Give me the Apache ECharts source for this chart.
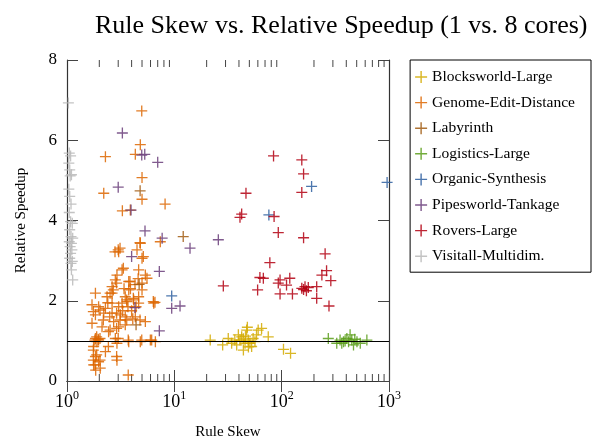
<!DOCTYPE html>
<html>
<head>
<meta charset="utf-8">
<script src="https://cdn.jsdelivr.net/npm/echarts@6/dist/echarts.min.js"></script>
<style>
  html, body { margin: 0; padding: 0; background: #fff; }
  #chart { width: 593px; height: 441px; }
</style>
</head>
<body>
<div id="chart"></div>
<script>
// data: [rule skew, relative speedup]
var blocksworld = [[21.6,1.02],[28.2,0.90],[31.8,1.06],[34.2,0.94],[36.6,1.02],[38.1,0.90],[39.5,1.15],[40.9,1.02],
  [42.4,1.10],[44,0.77],[45.6,0.94],[47.2,1.27],[48.8,1.02],[50.6,0.94],[52.5,0.86],[54.2,1.06],[56.4,0.98],
  [58.3,1.15],[60.4,1.27],[65,1.31],[75,1.10],[104,0.79],[121,0.69],[46,1.12],[49,0.85],[44,1.05],[47.9,1.34]];
var genome = [[4.97,6.73],[2.28,5.59],[4.82,5.89],[4.33,5.65],[5.0,5.07],[2.2,4.68],[5.0,4.53],[8.2,4.41],
  [3.28,4.24],[3.89,4.26],[7.4,3.47],[4.79,3.45],[3.0,3.27],[2.8,3.22],[3.03,3.22],[4.82,3.43],[4.49,3.27],
  [5.0,3.06],[5.14,3.10],[3.12,3.31],[3.26,2.77],[3.35,2.81],[2.92,2.64],[4.65,2.77],[5.37,2.64],[5.56,2.56],
  [2.82,2.52],[3.76,2.48],[5.0,2.44],[2.63,2.35],[2.9,2.44],[3.86,2.48],[2.7,2.27],[2.52,2.19],[1.84,2.19],
  [2.36,2.10],[3.49,2.10],[4.65,2.10],[2.63,2.19],[3.76,2.27],[5.0,2.27],[6.43,1.94],[6.37,1.98],[1.71,1.90],
  [1.97,1.85],[2.28,1.81],[2.63,1.94],[3.03,1.85],[3.26,1.94],[3.62,1.98],[4.18,2.02],[4.65,1.94],[3.6,2.02],
  [4.15,2.06],[1.84,1.65],[2.2,1.69],[2.63,1.69],[3.14,1.65],[3.49,1.60],[4.33,1.60],[5.37,1.48],[1.71,1.44],
  [2.12,1.35],[2.72,1.48],[3.03,1.35],[3.49,1.40],[2.44,1.23],[1.76,1.73],[2.03,1.77],[2.18,1.52],[2.9,1.69],
  [3.12,1.52],[3.6,1.52],[4.79,1.52],[2.52,1.27],[2.9,1.31],[1.84,1.06],[1.97,1.02],[1.89,1.10],[1.82,1.02],
  [2.03,1.06],[1.9,0.98],[1.95,1.04],[2.82,1.06],[2.92,0.94],[3.0,1.06],[3.76,0.98],[3.72,1.02],[4.82,0.98],
  [4.97,1.02],[5.98,1.02],[6.15,1.02],[6.66,0.98],[1.77,0.86],[2.28,0.73],[2.43,0.86],[1.76,0.77],[1.84,0.61],
  [1.89,0.65],[1.97,0.48],[1.76,0.52],[2.03,0.52],[1.77,0.40],[1.82,0.40],[2.04,0.32],[1.85,0.27],[2.92,0.52],
  [2.9,0.61],[3.72,0.15],[6.6,1.96],[4.0,1.75],[4.4,1.85],[3.9,2.3],[4.3,2.4],[3.3,1.75],[3.7,1.85],[4.1,1.55],
  [3.4,2.3],[4.6,2.55],[2.5,1.6],[2.4,1.95]];
var labyrinth = [[4.8,4.74],[4.7,2.41],[4.4,1.40],[12.1,3.6]];
var logistics = [[272,1.06],[326,0.94],[350,1.02],[363,0.94],[377,0.98],[405,1.06],[420,0.98],[434,1.15],
  [450,1.02],[467,0.90],[503,0.98],[540,0.94],[622,1.02],[390,1.0],[480,1.04]];
var organic = [[9.45,2.12],[76,4.14],[190,4.85],[960,4.95]];
var pipesworld = [[3.28,6.18],[4.97,5.63],[5.3,5.65],[7.0,5.45],[3.0,4.83],[3.95,4.26],[5.33,3.74],[7.7,3.56],
  [14.0,3.31],[25.7,3.52],[4.0,3.1],[7.25,2.73],[4.3,1.83],[7.25,1.25],[9.45,1.81],[11.3,1.87]];
var rovers = [[84,5.61],[154,5.51],[160,5.16],[154,4.70],[46.5,4.68],[42.4,4.16],[40.9,4.08],[85,4.10],[93,3.70],
  [160,3.57],[77.6,2.95],[254,3.17],[262,2.75],[237,2.64],[67.5,2.56],[62.7,2.58],[96.6,2.52],[119,2.56],
  [287,2.50],[28.6,2.37],[111,2.39],[93,2.44],[59.7,2.27],[96.6,2.17],[126,2.17],[154,2.31],[165,2.35],
  [177,2.33],[212,2.35],[212,2.06],[276,1.87],[160,2.28],[170,2.25]];
var visitall = [[1.03,6.93],[1.05,5.68],[1.08,5.61],[1.04,5.43],[1.06,5.26],[1.1,5.14],[1.07,5.11],[1.04,4.78],
  [1.06,4.60],[1.09,4.41],[1.05,4.20],[1.08,3.97],[1.12,3.93],[1.06,3.77],[1.09,3.60],[1.13,3.56],[1.05,3.47],
  [1.1,3.43],[1.07,3.35],[1.11,3.27],[1.08,3.18],[1.06,3.06],[1.12,2.98],[1.09,2.93],[1.1,2.77],[1.13,2.52]];

var names = ['Blocksworld-Large', 'Genome-Edit-Distance', 'Labyrinth', 'Logistics-Large',
  'Organic-Synthesis', 'Pipesworld-Tankage', 'Rovers-Large', 'Visitall-Multidim.'];
var colors = ['#d4aa00', '#dd6600', '#a15c12', '#5b9e1a', '#2e5fa0', '#6a3d7a', '#b30012', '#b8b8b8'];
var sets = [blocksworld, genome, labyrinth, logistics, organic, pipesworld, rovers, visitall];
var minorTicks = [2,3,4,5,6,7,8,9,20,30,40,50,60,70,80,90,200,300,400,500,600,700,800,900];

var plus = 'path://M4.4,0H5.6V4.4H10V5.6H5.6V10H4.4V5.6H0V4.4H4.4Z';
var serif = 'Liberation Serif';

var series = sets.map(function (d, i) {
  var s = {
    name: names[i],
    type: 'scatter',
    data: d,
    symbol: plus,
    symbolSize: 11,
    itemStyle: { color: colors[i], opacity: 0.85 }
  };
  if (i === 0) {
    s.markLine = {
      silent: true,
      symbol: 'none',
      label: { show: false },
      lineStyle: { color: '#000', width: 1.2, type: 'solid' },
      data: [{ yAxis: 1 }]
    };
  }
  return s;
});

// minor ticks of the log axis, top and bottom
series.push({
  type: 'custom',
  silent: true,
  data: minorTicks,
  encode: { x: 0 },
  renderItem: function (params, api) {
    var v = api.value(0);
    var b = api.coord([v, 0]);
    var t = api.coord([v, 8]);
    var st = { stroke: '#444', lineWidth: 1 };
    return {
      type: 'group',
      children: [
        { type: 'line', shape: { x1: b[0], y1: b[1], x2: b[0], y2: b[1] - 7 }, style: st },
        { type: 'line', shape: { x1: t[0], y1: t[1], x2: t[0], y2: t[1] + 7 }, style: st }
      ]
    };
  }
});

var myChart = echarts.init(document.getElementById('chart'));
myChart.setOption({
  backgroundColor: '#fff',
  animation: false,
  title: {
    text: 'Rule Skew vs. Relative Speedup (1 vs. 8 cores)',
    left: 90,
    top: 8,
    textStyle: { fontFamily: serif, fontSize: 26, fontWeight: 'normal', color: '#000' }
  },
  legend: {
    data: names.map(function (n, i) { return { name: n, icon: plus, itemStyle: { color: colors[i] } }; }),
    orient: 'vertical',
    right: 2,
    top: 60,
    itemWidth: 12,
    itemHeight: 12,
    itemGap: 9.6,
    padding: [9, 16, 8, 5],
    borderColor: '#000',
    borderWidth: 1,
    textStyle: { fontFamily: serif, fontSize: 15.5, color: '#000' }
  },
  grid: { left: 67, right: 204, top: 60, bottom: 60, outerBoundsMode: 'none' },
  xAxis: [{
    type: 'log',
    logBase: 10,
    min: 1,
    max: 1000,
    name: 'Rule Skew',
    nameLocation: 'middle',
    nameGap: 44,
    nameTextStyle: { fontFamily: serif, fontSize: 15, color: '#000' },
    axisLine: { lineStyle: { color: '#333', width: 1.2 } },
    axisTick: { inside: true, length: 11, lineStyle: { color: '#444' } },
    splitLine: { show: false },
    axisLabel: {
      margin: 9,
      formatter: function (v) { return '{b|10}{s|' + Math.round(Math.log10(v)) + '}'; },
      rich: {
        b: { fontFamily: serif, fontSize: 18, color: '#000' },
        s: { fontFamily: serif, fontSize: 12, color: '#000', padding: [0, 0, 12, 0] }
      }
    }
  }, {
    type: 'log',
    logBase: 10,
    min: 1,
    max: 1000,
    position: 'top',
    axisLine: { lineStyle: { color: '#333', width: 1.2 } },
    axisTick: { inside: true, length: 11, lineStyle: { color: '#444' } },
    axisLabel: { show: false },
    splitLine: { show: false }
  }],
  yAxis: [{
    type: 'value',
    min: 0,
    max: 8,
    interval: 2,
    name: 'Relative Speedup',
    nameLocation: 'middle',
    nameGap: 38,
    nameTextStyle: { fontFamily: serif, fontSize: 15, color: '#000' },
    axisLine: { show: true, lineStyle: { color: '#333', width: 1.2 } },
    axisTick: { show: true, inside: true, length: 11, lineStyle: { color: '#444' } },
    splitLine: { show: false },
    axisLabel: { fontFamily: serif, fontSize: 17, color: '#000', margin: 10 }
  }, {
    type: 'value',
    min: 0,
    max: 8,
    interval: 2,
    position: 'right',
    axisLine: { show: true, lineStyle: { color: '#333', width: 1.2 } },
    axisTick: { show: true, inside: true, length: 11, lineStyle: { color: '#444' } },
    axisLabel: { show: false },
    splitLine: { show: false }
  }],
  series: series
});
</script>
</body>
</html>
